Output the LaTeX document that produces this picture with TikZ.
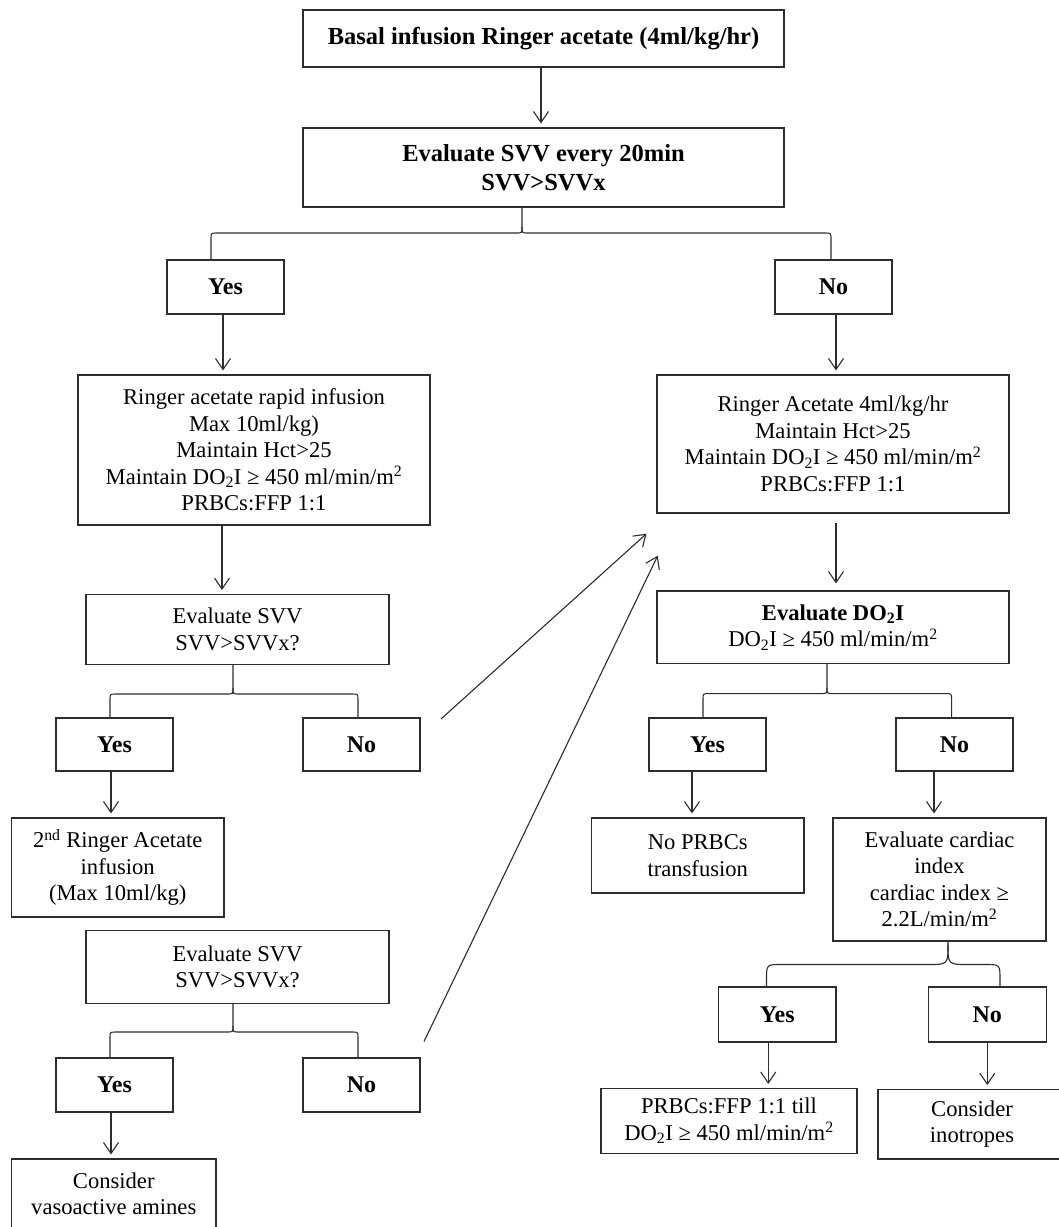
\documentclass[tikz,border=0pt]{standalone}
\usepackage{fontspec}
\setmainfont{Liberation Serif}
\usetikzlibrary{arrows.meta,calc}
\definecolor{lc}{RGB}{45,45,45}
\newcommand{\vlink}[3]{\coordinate (vtmp) at ($(#1.south)+(#2,0)$); \draw[arr] (vtmp) -- (vtmp |- #3.north);}
\newcommand{\bracelink}[9]{%
  \coordinate (bS) at (#2,#3);
  \coordinate (bL) at (#5,#3);
  \coordinate (bR) at (#7,#3);
  \draw[link] (#1.south -| bS) -- ($(bS)+(0,-#8)$) .. controls (bS) .. ($(bS)+(-#8,0)$) -- ($(bL)+(#9,0)$) .. controls (bL) .. ($(bL)+(0,#9)$) -- (#4.north -| bL);
  \draw[link] ($(bS)+(0,-#8)$) .. controls (bS) .. ($(bS)+(#8,0)$) -- ($(bR)+(-#9,0)$) .. controls (bR) .. ($(bR)+(0,#9)$) -- (#6.north -| bR);
}
\tikzset{
  box/.style={draw=lc, line width=1.1pt, inner sep=0pt, align=center, font=\fontsize{22.6}{26.5}\selectfont, text=black},
  bbox/.style={box, font=\fontsize{24.5}{29.3}\selectfont\bfseries},
  yn/.style={box, font=\fontsize{24}{28}\selectfont\bfseries, minimum width=117pt, minimum height=54pt},
  link/.style={draw=lc, line width=1.1pt},
  arr/.style={link, -{Straight Barb[length=11pt,width=15pt,line width=1.1pt]}, shorten >=4pt},
}
\begin{document}
\begin{tikzpicture}[x=1pt,y=-1pt]
\useasboundingbox (0,0) rectangle (1059,1227);
\clip (0,0) rectangle (1059,1227);
\fill[white] (0,0) rectangle (1059,1227);

\node[bbox, minimum width=481pt, minimum height=57pt] (b1) at (543.5,38.5) {Basal infusion Ringer acetate (4ml/kg/hr)};
\node[bbox, minimum width=481pt, minimum height=79pt] (b2) at (543.5,167.5) {Evaluate SVV every 20min\\SVV>SVVx};
\node[yn] (y1) at (225.5,287) {Yes};
\node[yn] (n1) at (833.5,287) {No};
\node[box, minimum width=352pt, minimum height=150pt] (b3) at (254,450) {Ringer acetate rapid infusion\\Max 10ml/kg)\\Maintain Hct>25\\Maintain DO\textsubscript{2}I ≥ 450 ml/min/m\textsuperscript{2}\\PRBCs:FFP 1:1};
\node[box, minimum width=352pt, minimum height=138pt] (ra) at (833,444) {Ringer Acetate 4ml/kg/hr\\Maintain Hct>25\\Maintain DO\textsubscript{2}I ≥ 450 ml/min/m\textsuperscript{2}\\PRBCs:FFP 1:1};
\node[box, minimum width=303pt, minimum height=69.5pt] (b4) at (237.5,629.3) {Evaluate SVV\\SVV>SVVx?};
\node[box, minimum width=352pt, minimum height=72.6pt] (do) at (833,627.3) {\textbf{Evaluate DO\textsubscript{2}I}\\DO\textsubscript{2}I ≥ 450 ml/min/m\textsuperscript{2}};
\node[yn, minimum height=53pt] (y2) at (114.5,744.5) {Yes};
\node[yn, minimum height=53pt] (n2) at (361.5,744.5) {No};
\node[yn, minimum height=53pt] (y4) at (707.5,744.5) {Yes};
\node[yn, minimum height=53pt] (n4) at (954.5,744.5) {No};
\node[box, minimum width=212.5pt, minimum height=99pt] (b5) at (117.75,867.5) {2\textsuperscript{nd} Ringer Acetate\\infusion\\(Max 10ml/kg)};
\node[box, minimum width=212.5pt, minimum height=75pt] (np) at (697.75,855.5) {No PRBCs\\transfusion};
\node[box, minimum width=213pt, minimum height=123pt] (ci) at (939.5,879.5) {Evaluate cardiac\\index\\cardiac index ≥\\2.2L/min/m\textsuperscript{2}};
\node[box, minimum width=303pt, minimum height=73pt] (b6) at (237.5,967) {Evaluate SVV\\SVV>SVVx?};
\node[yn, minimum width=117.5pt, minimum height=55pt] (y5) at (777.25,1014.5) {Yes};
\node[yn, minimum width=117.5pt, minimum height=55pt] (n5) at (987.3,1014.5) {No};
\node[yn] (y3) at (114.5,1085) {Yes};
\node[yn] (n3) at (361.5,1085) {No};
\node[box, minimum width=256pt, minimum height=65pt] (pt) at (729,1121) {PRBCs:FFP 1:1 till\\DO\textsubscript{2}I ≥ 450 ml/min/m\textsuperscript{2}};
\node[box, minimum width=188pt, minimum height=69.3pt] (ino) at (972,1124.3) {Consider\\inotropes};
\node[box, minimum width=204.5pt, minimum height=70pt] (am) at (113.75,1194) {Consider\\vasoactive amines};

% vertical arrows
\vlink{b1}{-2.5}{b2}
\vlink{y1}{-2.5}{b3}
\vlink{n1}{2.5}{ra}
\vlink{b3}{-32}{b4}
\coordinate (rq) at ($(ra.south)+(3,0)$);
\draw[arr, shorten <=9.5pt, shorten >=7pt] (rq) -- (rq |- do.north);
\vlink{y2}{-3.5}{b5}
\vlink{y3}{-3.5}{am}
\vlink{y4}{-15.5}{np}
\vlink{n4}{-20.5}{ci}
\vlink{y5}{-9}{pt}
\vlink{n5}{0}{ino}

% braces
\bracelink{b2}{522}{233}{y1}{211}{n1}{831}{6}{6}
\bracelink{b4}{233}{694}{y2}{110}{n2}{358}{6}{6}
\bracelink{b6}{233}{1032}{y3}{110}{n3}{358}{6}{6}
\bracelink{do}{827}{693.6}{y4}{703}{n4}{951.6}{6}{6}
\bracelink{ci}{948}{964.5}{y5}{766.5}{n5}{1000}{20}{15}

% diagonal arrows
\coordinate (d1s) at (441,719);
\coordinate (d1e) at (646.5,533.7);
\coordinate (d2s) at (424,1041.5);
\coordinate (d2e) at (657.7,555.7);
\draw[arr, shorten >=0pt] (d1s) -- (d1e);
\draw[arr, shorten >=0pt] (d2s) -- (d2e);
\end{tikzpicture}
\end{document}
